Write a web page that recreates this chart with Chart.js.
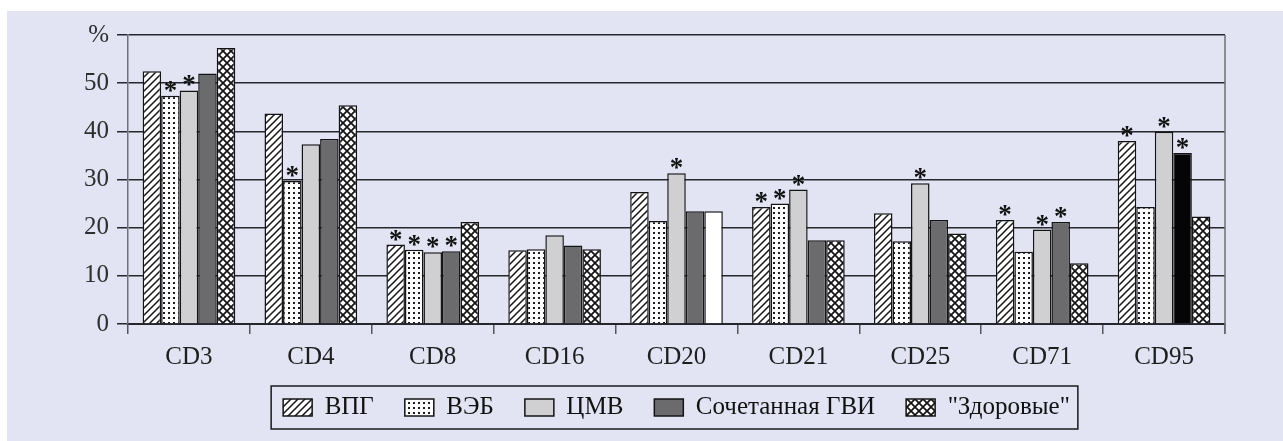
<!DOCTYPE html>
<html>
<head>
<meta charset="utf-8">
<title>CD-маркеры лимфоцитов</title>
<script src="https://cdn.jsdelivr.net/npm/chart.js@4/dist/chart.umd.min.js"></script>
<style>
  html, body { margin: 0; padding: 0; background: #ffffff; overflow: hidden; width: 1283px; height: 441px; }
  #frame { position: absolute; left: 7px; top: 11px; width: 1276px; height: 430px; background: #e2e4f3; overflow: hidden; }
  #wrap { position: absolute; left: 0; top: 0; width: 1276px; height: 419px; }
</style>
</head>
<body>
<div id="frame"><div id="wrap"><canvas id="c"></canvas></div></div>
<script>
// Categories (lymphocyte markers) and tick labels
const categories = ['CD3', 'CD4', 'CD8', 'CD16', 'CD20', 'CD21', 'CD25', 'CD71', 'CD95'];
const yTickValues = [0, 10, 20, 30, 40, 50, 60];
const yTickLabels = ['0', '10', '20', '30', '40', '50', '%'];

// Series names
const seriesNames = ['ВПГ', 'ВЭБ', 'ЦМВ', 'Сочетанная ГВИ', '"Здоровые"'];

// Values, %
const vpgValues     = [52.5, 43.7, 16.5, 15.3, 27.4, 24.3, 23.0, 21.6, 38.0];
const vebValues     = [47.4, 29.7, 15.4, 15.5, 21.4, 25.0, 17.2, 15.0, 24.3];
const cmvValues     = [48.5, 37.3, 14.9, 18.4, 31.3, 27.9, 29.2, 19.6, 39.9];
const mixedValues   = [52.0, 38.4, 15.1, 16.3, 23.4, 17.4, 21.6, 21.2, 35.5];
const healthyValues = [57.3, 45.4, 21.2, 15.5, 23.4, 17.4, 18.8, 12.6, 22.3];

// Significant differences (asterisks), 1 = marked
const vpgStars     = [0, 0, 1, 0, 0, 1, 0, 1, 1];
const vebStars     = [1, 1, 1, 0, 0, 1, 0, 0, 0];
const cmvStars     = [1, 0, 1, 0, 1, 1, 1, 1, 1];
const mixedStars   = [0, 0, 1, 0, 0, 0, 0, 1, 1];
const healthyStars = [0, 0, 0, 0, 0, 0, 0, 0, 0];

// ---- fills ----
function makePattern(w, h, draw) {
  const cv = document.createElement('canvas');
  cv.width = w; cv.height = h;
  const g = cv.getContext('2d');
  draw(g, w, h);
  return g.createPattern(cv, 'repeat');
}
const hatchFill = makePattern(7, 7, (g, w, h) => {
  g.fillStyle = '#ffffff'; g.fillRect(0, 0, w, h);
  g.strokeStyle = '#151515'; g.lineWidth = 1.5; g.lineCap = 'square';
  g.beginPath();
  g.moveTo(-1, h + 1); g.lineTo(w + 1, -1);
  g.moveTo(-1, 1); g.lineTo(1, -1);
  g.moveTo(w - 1, h + 1); g.lineTo(w + 1, h - 1);
  g.stroke();
});
const dotFill = makePattern(5, 5, (g, w, h) => {
  g.fillStyle = '#ffffff'; g.fillRect(0, 0, w, h);
  g.fillStyle = '#1c1c1c'; g.fillRect(1, 1, 2, 2);
});
const crossFill = makePattern(8, 8, (g, w, h) => {
  g.fillStyle = '#ffffff'; g.fillRect(0, 0, w, h);
  g.strokeStyle = '#151515'; g.lineWidth = 1.8;
  g.beginPath();
  g.moveTo(-1, -1); g.lineTo(w + 1, h + 1);
  g.moveTo(w + 1, -1); g.lineTo(-1, h + 1);
  g.stroke();
});
const lightGrey = '#d0d0d2';
const darkGrey = '#6b6b6d';

// per-bar exceptions in the drawing
const mixedSpecial = { 8: '#050505' };     // CD95 combined infection drawn solid black
const healthySpecial = { 4: '#ffffff' };   // CD20 healthy drawn plain white

const seriesFills = [hatchFill, dotFill, lightGrey, darkGrey, crossFill];
const seriesValues = [vpgValues, vebValues, cmvValues, mixedValues, healthyValues];
const seriesStars = [vpgStars, vebStars, cmvStars, mixedStars, healthyStars];
const seriesSpecial = [{}, {}, {}, mixedSpecial, healthySpecial];

const datasets = seriesNames.map((name, i) => ({
  label: name,
  data: seriesValues[i],
  backgroundColor: (ctx) => (seriesSpecial[i][ctx.dataIndex] || seriesFills[i]),
  borderColor: '#141414',
  borderWidth: 1.5,
  categoryPercentage: 0.76,
  barPercentage: 1.0
}));

const serif = '"Liberation Serif", "Times New Roman", serif';

// asterisks above marked bars
const starsPlugin = {
  id: 'stars',
  afterDatasetsDraw(chart) {
    const c = chart.ctx;
    c.save();
    c.font = 'bold 27px ' + serif;
    c.fillStyle = '#111111';
    c.textAlign = 'center';
    c.textBaseline = 'alphabetic';
    chart.data.datasets.forEach((ds, i) => {
      const marks = seriesStars[i];
      chart.getDatasetMeta(i).data.forEach((bar, j) => {
        if (marks[j]) c.fillText('*', bar.x, bar.y + 3);
      });
    });
    c.restore();
  }
};

// right edge of the plot and the frame around the legend
const framePlugin = {
  id: 'frames',
  afterDraw(chart) {
    const c = chart.ctx;
    const a = chart.chartArea;
    c.save();
    c.strokeStyle = '#6f6f78';
    c.lineWidth = 1.5;
    c.beginPath();
    c.moveTo(a.right, a.top);
    c.lineTo(a.right, a.bottom + 10);
    c.stroke();

    const boxes = chart.legend && chart.legend.legendHitBoxes;
    if (boxes && boxes.length) {
      let l = Infinity, r = -Infinity, t = Infinity, b = -Infinity;
      boxes.forEach(h => {
        l = Math.min(l, h.left); r = Math.max(r, h.left + h.width);
        t = Math.min(t, h.top); b = Math.max(b, h.top + h.height);
      });
      c.strokeStyle = '#1a1a1a';
      c.lineWidth = 1.5;
      c.strokeRect(l - 12, t - 9, (r + 8) - (l - 12), (b + 9) - (t - 9));
    }
    c.restore();
  }
};

new Chart(document.getElementById('c'), {
  type: 'bar',
  data: { labels: categories, datasets },
  options: {
    responsive: true,
    maintainAspectRatio: false,
    animation: false,
    events: [],
    layout: { padding: { top: 24, right: 58, left: 0, bottom: 0 } },
    scales: {
      x: {
        offset: true,
        grid: { display: true, drawOnChartArea: false, drawTicks: true, tickLength: 10, color: '#55555c', lineWidth: 1.5, offset: true },
        border: { display: true, color: '#26262c', width: 2 },
        ticks: { font: { family: serif, size: 25 }, color: '#1e1e1e', padding: 8, maxRotation: 0, autoSkip: false },
        afterFit(scale) { scale.height = 40; }
      },
      y: {
        min: 0,
        max: 60,
        afterBuildTicks(scale) { scale.ticks = yTickValues.map(v => ({ value: v })); },
        ticks: {
          font: { family: serif, size: 25 },
          color: '#2e2e2e',
          padding: 8,
          callback: (v) => yTickLabels[yTickValues.indexOf(v)]
        },
        grid: { color: '#26262e', lineWidth: 1.5, tickLength: 11, drawTicks: true },
        border: { display: true, color: '#707078', width: 1.5 },
        afterFit(scale) { scale.width = 121; }
      }
    },
    plugins: {
      tooltip: { enabled: false },
      legend: {
        position: 'bottom',
        fullSize: false,
        labels: {
          font: { family: serif, size: 25 },
          color: '#111111',
          boxWidth: 29,
          boxHeight: 17,
          padding: 31,
          generateLabels(chart) {
            return chart.data.datasets.map((ds, i) => ({
              text: ds.label,
              fillStyle: seriesFills[i],
              strokeStyle: '#141414',
              lineWidth: 1.5,
              fontColor: '#111111',
              hidden: false,
              datasetIndex: i
            }));
          }
        }
      }
    }
  },
  plugins: [starsPlugin, framePlugin]
});
</script>
</body>
</html>
